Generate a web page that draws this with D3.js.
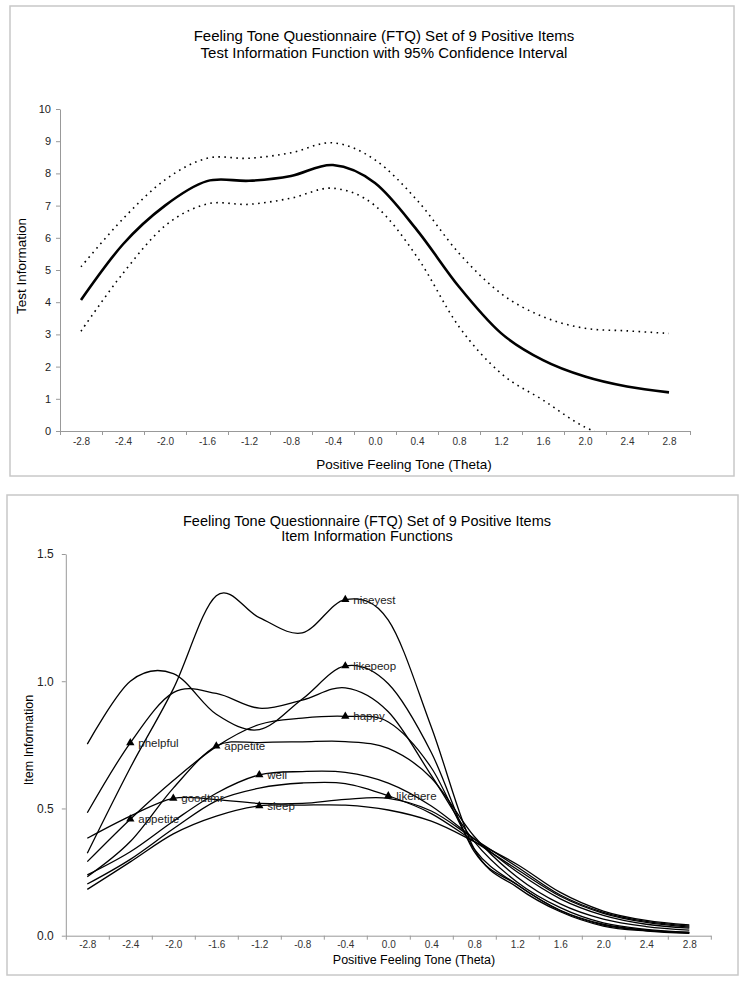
<!DOCTYPE html>
<html><head><meta charset="utf-8">
<script src="https://cdn.jsdelivr.net/npm/d3@7"></script>
<style>
body{margin:0;background:#fff;}
text{font-family:"Liberation Sans",Arial,sans-serif;}
</style></head>
<body>
<svg id="c" width="745" height="981"></svg>
<script>
// ---------- data ----------
const theta = [-2.8,-2.4,-2.0,-1.6,-1.2,-0.8,-0.4,0.0,0.4,0.8,1.2,1.6,2.0,2.4,2.8];
const tickBounds = [-3.0,-2.6,-2.2,-1.8,-1.4,-1.0,-0.6,-0.2,0.2,0.6,1.0,1.4,1.8,2.2,2.6,3.0];
const tif      = [4.07,5.80,7.00,7.76,7.77,7.92,8.26,7.70,6.24,4.48,3.04,2.20,1.69,1.38,1.20];
const tifUpper = [5.10,6.59,7.80,8.47,8.47,8.64,8.95,8.42,7.17,5.52,4.27,3.55,3.19,3.11,3.03];
const tifLower = [3.10,4.90,6.37,7.05,7.04,7.23,7.54,7.00,5.41,3.24,1.79,0.96,0.12,-0.35,-0.63];
const topYTicks = [0,1,2,3,4,5,6,7,8,9,10];

const itemNames = ["niceyest","likepeop","phelpful","happy","appetite","well","likehere","goodtmr","sleep"];
const niceyest = [0.324,0.66,0.97,1.336,1.25,1.19,1.321,1.24,0.82,0.34,0.19,0.094,0.038,0.018,0.009];
const likepeop = [0.753,1.00,1.03,0.87,0.81,0.93,1.06,0.99,0.72,0.33,0.20,0.098,0.042,0.021,0.011];
const phelpful = [0.483,0.758,0.955,0.952,0.894,0.926,0.974,0.88,0.63,0.37,0.21,0.110,0.050,0.025,0.014];
const happy    = [0.291,0.458,0.61,0.743,0.83,0.855,0.862,0.84,0.66,0.34,0.20,0.100,0.045,0.022,0.012];
const appetite = [0.232,0.37,0.58,0.745,0.759,0.762,0.763,0.736,0.62,0.39,0.23,0.125,0.065,0.036,0.022];
const well     = [0.239,0.33,0.45,0.56,0.632,0.645,0.642,0.60,0.51,0.38,0.25,0.145,0.080,0.045,0.030];
const likehere = [0.203,0.30,0.42,0.53,0.58,0.60,0.598,0.55,0.48,0.37,0.26,0.155,0.088,0.052,0.034];
const goodtmr  = [0.383,0.47,0.54,0.535,0.52,0.52,0.536,0.54,0.49,0.38,0.27,0.160,0.092,0.056,0.038];
const sleep    = [0.182,0.29,0.40,0.47,0.51,0.513,0.513,0.494,0.45,0.37,0.28,0.170,0.097,0.060,0.042];
const itemSeries = [niceyest,likepeop,phelpful,happy,appetite,well,likehere,goodtmr,sleep];
// data labels: text, series index, theta
const markLabels = [
  {text:"niceyest", s:0, t:-0.4},
  {text:"likepeop", s:1, t:-0.4},
  {text:"happy",    s:3, t:-0.4},
  {text:"phelpful", s:2, t:-2.4},
  {text:"appetite", s:4, t:-1.6},
  {text:"appetite", s:3, t:-2.4},
  {text:"well",     s:5, t:-1.2},
  {text:"goodtmr",  s:7, t:-2.0},
  {text:"sleep",    s:8, t:-1.2},
  {text:"likehere", s:6, t:0.0}
];
const botYTicks = [0,0.5,1.0,1.5];

const svg = d3.select("#c");
const fmt1 = d => d.toFixed(1);

// ---------- frames ----------
svg.append("rect").attr("x",10).attr("y",6).attr("width",724).attr("height",470)
  .attr("fill","none").attr("stroke","#c8c8c8").attr("stroke-width",1.5);
svg.append("rect").attr("x",7).attr("y",495).attr("width",731).attr("height",480)
  .attr("fill","none").attr("stroke","#c8c8c8").attr("stroke-width",1.5);

function drawAxes(g, x, y, yTicks, yFmt, yFont, yPad, xFont, xPad){
  const yAx = g.append("g").attr("transform",`translate(${x.range()[0]},0)`)
    .call(d3.axisLeft(y).tickValues(yTicks).tickFormat(yFmt).tickSize(4).tickSizeOuter(0).tickPadding(yPad));
  yAx.select(".domain").attr("stroke","#999");
  yAx.selectAll(".tick line").attr("stroke","#999");
  yAx.selectAll("text").attr("font-size",yFont).attr("fill","#222").attr("font-family","Liberation Sans, Arial");
  const y0 = y.range()[0];
  const xAx = g.append("g").attr("transform",`translate(0,${y0})`)
    .call(d3.axisBottom(x).tickValues(tickBounds).tickFormat("").tickSize(4).tickSizeOuter(0));
  xAx.select(".domain").attr("stroke","#999");
  xAx.selectAll(".tick line").attr("stroke","#999");
  const xl = g.append("g").attr("transform",`translate(0,${y0})`)
    .call(d3.axisBottom(x).tickValues(theta).tickFormat(fmt1).tickSize(0).tickPadding(xPad));
  xl.select(".domain").remove();
  xl.selectAll("text").attr("font-size",xFont).attr("fill","#333").attr("font-family","Liberation Sans, Arial");
}

// ---------- top chart ----------
const xT = d3.scaleLinear().domain([-3,3]).range([60,690]);
const yT = d3.scaleLinear().domain([0,10]).range([431,109]);
const gT = svg.append("g");
gT.append("text").attr("x",384).attr("y",41).attr("text-anchor","middle").attr("font-size",15)
  .text("Feeling Tone Questionnaire (FTQ) Set of 9 Positive Items");
gT.append("text").attr("x",384).attr("y",58).attr("text-anchor","middle").attr("font-size",15)
  .text("Test Information Function with 95% Confidence Interval");
drawAxes(gT, xT, yT, topYTicks, d=>String(d), 11, 5, 10, 7);
gT.append("text").attr("x",404).attr("y",469).attr("text-anchor","middle").attr("font-size",13.5)
  .text("Positive Feeling Tone (Theta)");
gT.append("text").attr("transform","translate(26,266) rotate(-90)").attr("text-anchor","middle").attr("font-size",13.5)
  .text("Test Information");

svg.append("clipPath").attr("id","clipT").append("rect")
  .attr("x",60).attr("y",100).attr("width",640).attr("height",331);
const lineT = d3.line().x((d,i)=>xT(theta[i])).y(d=>yT(d)).curve(d3.curveCardinal.tension(0));
gT.append("path").attr("d",lineT(tif)).attr("fill","none").attr("stroke","#000").attr("stroke-width",2.6);
[tifUpper,tifLower].forEach(s=>{
  gT.append("path").attr("d",lineT(s)).attr("clip-path","url(#clipT)").attr("fill","none")
    .attr("stroke","#000").attr("stroke-width",1.6).attr("stroke-dasharray","1.6,4.4");
});

// ---------- bottom chart ----------
const xB = d3.scaleLinear().domain([-3,3]).range([65.8,710.8]);
const yB = d3.scaleLinear().domain([0,1.5]).range([935.7,554]);
const gB = svg.append("g");
gB.append("text").attr("x",367).attr("y",526).attr("text-anchor","middle").attr("font-size",14.5)
  .text("Feeling Tone Questionnaire (FTQ) Set of 9 Positive Items");
gB.append("text").attr("x",367).attr("y",541).attr("text-anchor","middle").attr("font-size",14.5)
  .text("Item Information Functions");
drawAxes(gB, xB, yB, botYTicks, fmt1, 12, 8, 10, 5);
gB.append("text").attr("x",414).attr("y",964).attr("text-anchor","middle").attr("font-size",12.5)
  .text("Positive Feeling Tone (Theta)");
gB.append("text").attr("transform","translate(33,740) rotate(-90)").attr("text-anchor","middle").attr("font-size",12.5)
  .text("Item Information");

const lineB = d3.line().x((d,i)=>xB(theta[i])).y(d=>yB(d)).curve(d3.curveCardinal.tension(0));
itemSeries.forEach(s=>{
  gB.append("path").attr("d",lineB(s)).attr("fill","none").attr("stroke","#000").attr("stroke-width",1.3);
});
const tri = d3.symbol().type(d3.symbolTriangle).size(30);
markLabels.forEach(m=>{
  const i = theta.findIndex(t=>Math.abs(t-m.t)<1e-9);
  const v = itemSeries[m.s][i];
  gB.append("path").attr("d",tri()).attr("transform",`translate(${xB(m.t)},${yB(v)})`).attr("fill","#000");
  gB.append("text").attr("x",xB(m.t)+8).attr("y",yB(v)+4).attr("font-size",11.5).attr("fill","#222").text(m.text);
});
</script>
</body></html>
